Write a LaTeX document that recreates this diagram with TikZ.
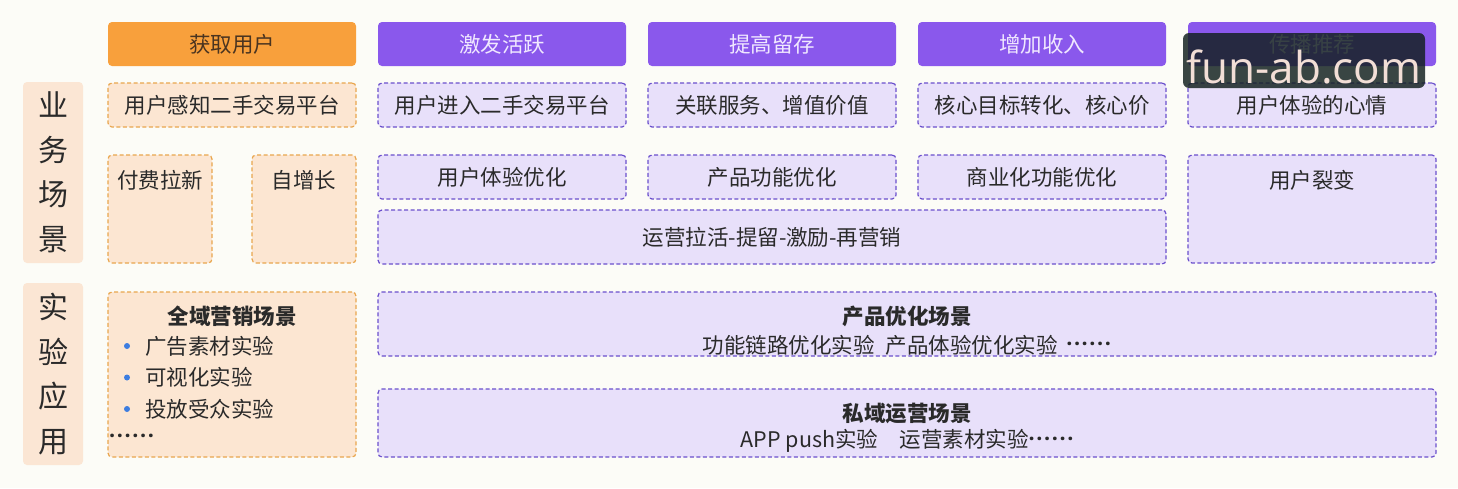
\documentclass[tikz,border=0pt]{standalone}
\usepackage{fontspec}
\newfontfamily\cjk{Noto Sans CJK SC}
\newfontfamily\wmfont{Open Sans}
\definecolor{bgcream}{HTML}{FCFCF7}
\definecolor{hdrorange}{HTML}{F8A03C}
\definecolor{hdrpurple}{HTML}{8A58EC}
\definecolor{lavfill}{HTML}{E8E0FA}
\definecolor{lavline}{HTML}{6B50CC}
\definecolor{peachfill}{HTML}{FCE6D2}
\definecolor{peachline}{HTML}{E9A64E}
\definecolor{sidefill}{HTML}{FBE6D4}
\definecolor{inkdark}{HTML}{2A2A2A}
\definecolor{hdrink}{HTML}{4A3420}
\definecolor{hdrlight}{HTML}{F0E8FF}
\definecolor{dotblue}{HTML}{3D7DE0}
\definecolor{wmbox}{HTML}{12201F}
\definecolor{wmtext}{HTML}{F2DED6}
\newcommand{\sixdots}{{\wmfont\bfseries\raisebox{1.5pt}{·\kern1.6pt·\kern1.6pt·\kern1.6pt·\kern1.6pt·\kern1.6pt·}}}

\begin{document}
\begin{tikzpicture}[x=1pt, y=-1pt,
  every node/.style={inner sep=0pt, text=inkdark},
  txt/.style={font=\cjk\fontsize{21.5}{24}\selectfont},
  ttl/.style={font=\cjk\bfseries\fontsize{21.5}{24}\selectfont},
  hdr/.style={txt, rounded corners=4pt, minimum width=248pt, minimum height=44pt},
  hdrorg/.style={hdr, fill=hdrorange, text=hdrink},
  hdrpur/.style={hdr, fill=hdrpurple, text=hdrlight},
  dashbox/.style={rounded corners=4pt, line width=1.2pt, dash pattern=on 4pt off 2.5pt},
  pbox/.style={dashbox, draw=lavline, fill=lavfill},
  obox/.style={dashbox, draw=peachline, fill=peachfill},
  sidebox/.style={rounded corners=4pt, fill=sidefill, minimum width=60pt, align=center,
    font=\cjk\fontsize{30}{44.5}\selectfont},
  dot/.style={circle, fill=dotblue, minimum size=6pt},
  wmark/.style={fill=wmbox, fill opacity=0.83, text opacity=1, text=wmtext, rounded corners=6pt,
    minimum width=242pt, minimum height=55pt, text height=46pt,
    font=\wmfont\fontsize{44}{48}\selectfont}]

% background
\fill[bgcream] (0,0) rectangle (1458,488);

% side labels
\node[sidebox, minimum height=181pt] (biz) at (53,172.5) {业\\务\\场\\景};
\node[sidebox, minimum height=182pt] (exp) at (53,374) {实\\验\\应\\用};

% header row
\node[hdrorg] (h-acq) at (232,44) {获取用户};
\foreach \name/\cx/\txt in {act/502/激发活跃, ret/772/提高留存, rev/1042/增加收入, ref/1312/传播推荐}
  \node[hdrpur] (h-\name) at (\cx,44) {\txt};

% second row
\node[obox, txt, minimum width=248pt, minimum height=44pt] (s-acq) at (232,105) {用户感知二手交易平台};
\foreach \name/\cx/\txt in {act/502/用户进入二手交易平台, ret/772/关联服务、增值价值,
    rev/1042/核心目标转化、核心价, ref/1312/用户体验的心情}
  \node[pbox, txt, minimum width=248pt, minimum height=44pt] (s-\name) at (\cx,105) {\txt};

% third row
\node[obox, minimum width=104pt, minimum height=108pt] (paid) at (160,209) {};
\node[txt] (paid-t) at (160,180) {付费拉新};
\node[obox, minimum width=104pt, minimum height=108pt] (self) at (304,209) {};
\node[txt] (self-t) at (304,180) {自增长};
\foreach \name/\cx/\txt in {act/502/用户体验优化, ret/772/产品功能优化, rev/1042/商业化功能优化}
  \node[pbox, txt, minimum width=248pt, minimum height=44pt] (o-\name) at (\cx,177) {\txt};
\node[pbox, txt, minimum width=788pt, minimum height=54pt] (ops) at (772,237) {运营拉活-提留-激励-再营销};
\node[pbox, minimum width=248pt, minimum height=108pt] (fiss) at (1312,209) {};
\node[txt] (fiss-t) at (1312,180) {用户裂变};

% experiment rows
\node[obox, minimum width=248pt, minimum height=165pt] (mkt) at (232,374.5) {};
\node[ttl] (mkt-t) at (232,316) {全域营销场景};
\foreach \i/\txt in {1/广告素材实验, 2/可视化实验, 3/投放受众实验} {
  \node[dot] (dot\i) at (127,314.5+31.5*\i) {};
  \node[txt, anchor=west] (item\i) at (145,314.5+31.5*\i) {\txt};
}
\node[txt, anchor=west] (mkt-more) at (109,440) {\sixdots};

\node[pbox, minimum width=1058pt, minimum height=64pt] (prod) at (907,324) {};
\node[ttl] (prod-t) at (907,316) {产品优化场景};
\node[txt] (prod-s) at (907,345) {功能链路优化实验\hspace{0.5em}产品体验优化实验\hspace{0.4em}\sixdots};
\node[pbox, minimum width=1058pt, minimum height=68pt] (priv) at (907,423) {};
\node[ttl] (priv-t) at (907,413) {私域运营场景};
\node[txt] (priv-s) at (907,441) {APP push实验\hspace{1em}运营素材实验\sixdots};

% watermark
\node[wmark] (wm) at (1304,60.5) {fun-ab.com};
\end{tikzpicture}
\end{document}
